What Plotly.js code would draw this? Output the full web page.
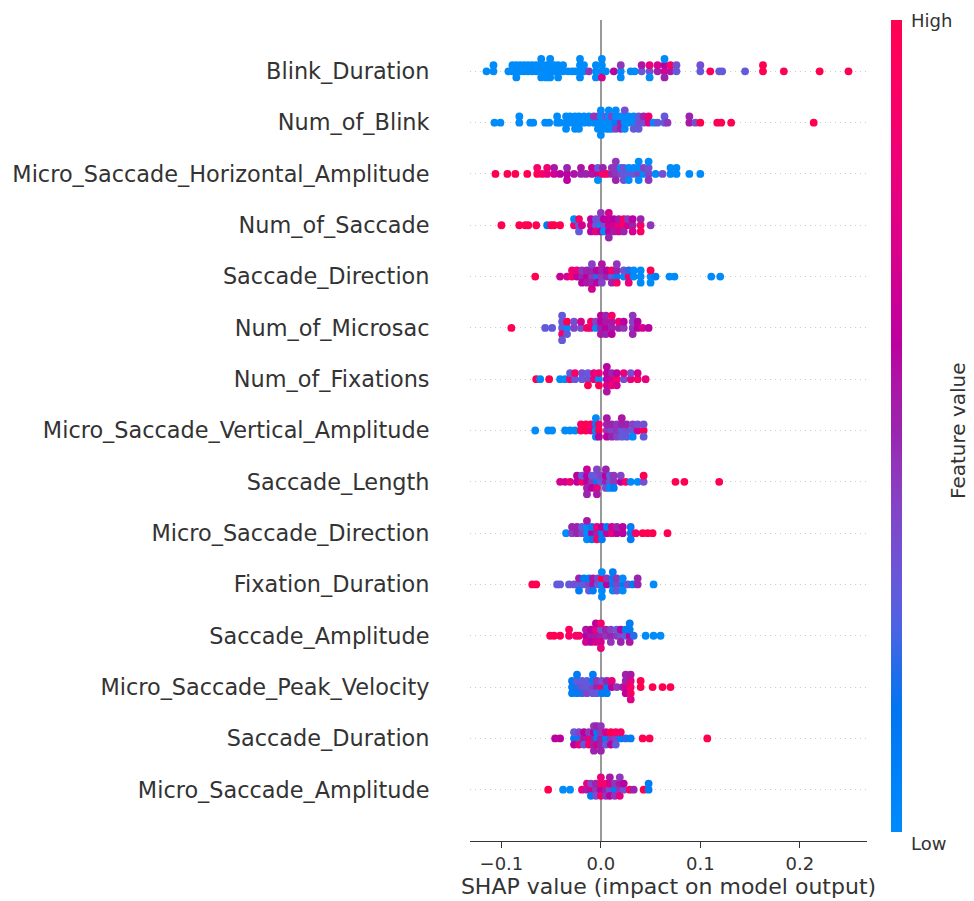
<!DOCTYPE html>
<html>
<head>
<meta charset="utf-8">
<script src="https://cdn.plot.ly/plotly-3.0.1.min.js"></script>
<style>html,body{margin:0;padding:0;background:#fff;}#chart{width:974px;height:901px;}</style>
</head>
<body>
<div id="chart"></div>
<script>
// Feature names, top to bottom
const featureNames = [
  "Blink_Duration","Num_of_Blink","Micro_Saccade_Horizontal_Amplitude","Num_of_Saccade",
  "Saccade_Direction","Num_of_Microsac","Num_of_Fixations","Micro_Saccade_Vertical_Amplitude",
  "Saccade_Length","Micro_Saccade_Direction","Fixation_Duration","Saccade_Amplitude",
  "Micro_Saccade_Peak_Velocity","Saccade_Duration","Micro_Saccade_Amplitude"
];
const xTickVals = [-0.1, 0, 0.1, 0.2];
const xTickText = ["\u22120.1", "0.0", "0.1", "0.2"];

// SHAP values and (normalised) feature values per feature
const shapBlinkDuration = [-0.115,-0.108,-0.108,-0.093,-0.089,-0.089,-0.085,-0.085,-0.085,-0.081,-0.081,-0.077,-0.077,-0.073,-0.073,-0.069,-0.069,-0.065,-0.065,-0.060,-0.060,-0.060,-0.060,-0.055,-0.055,-0.055,-0.051,-0.051,-0.051,-0.051,-0.047,-0.047,-0.043,-0.043,-0.043,-0.038,-0.038,-0.033,-0.029,-0.026,-0.021,-0.021,-0.021,-0.021,-0.017,-0.017,-0.012,-0.005,-0.005,-0.005,0.001,0.001,0.001,0.001,0.005,0.013,0.020,0.020,0.020,0.030,0.034,0.041,0.041,0.049,0.049,0.049,0.057,0.057,0.064,0.064,0.064,0.064,0.070,0.070,0.076,0.076,0.100,0.100,0.110,0.119,0.122,0.145,0.163,0.163,0.184,0.220,0.249];
const featBlinkDuration = [0,0,0,0,0,0,0,0,0,0,0,0,0,0,0,0,0,0,0,0,0,0,0,0,0,0,0,0,0,0,0,0,0,0,0,0,0,0,0,0,0,0,0,0,0,0,0.45,0,0,0,0,0,0.7,0,0,0.6,0,0.45,0,0,0,0.3,0.55,0.35,0.8,0,0.5,0.7,0.7,0.6,0.5,0,0.55,0.9,0.3,0.35,0.3,0.35,0.95,0.3,0.3,0.3,1,1,1,1,1];

const shapNumBlink = [-0.107,-0.101,-0.082,-0.082,-0.071,-0.068,-0.056,-0.052,-0.044,-0.044,-0.041,-0.035,-0.035,-0.035,-0.031,-0.031,-0.026,-0.026,-0.026,-0.022,-0.022,-0.022,-0.017,-0.017,-0.012,-0.012,-0.007,-0.007,-0.003,-0.003,-0.003,0.000,0.000,0.000,0.000,0.000,0.005,0.005,0.005,0.008,0.008,0.008,0.008,0.011,0.011,0.011,0.015,0.015,0.015,0.015,0.020,0.020,0.020,0.024,0.024,0.024,0.024,0.028,0.028,0.033,0.033,0.033,0.038,0.038,0.038,0.043,0.043,0.048,0.048,0.053,0.057,0.064,0.064,0.067,0.089,0.089,0.095,0.100,0.117,0.121,0.131,0.214];
const featNumBlink = [0,0,0,0,0,0,0,0,0,0,0,0,0,0,0,0,0,0,0,0,0,0,0,0,0,0,0,0.45,0,0.45,0,0,0,0,0,0,0,0.3,0,0,0,0,0,0,0.4,0,0.1,0,0.4,0,0.5,0,0.5,0,0,0,0.35,0,0,0,0,0.3,0.35,0.3,0.3,0.35,0.5,0.75,0.85,0,0.3,0.3,0.3,0.45,0.55,0.5,0.35,1,0.95,1,1,1];

const shapMSHorizAmp = [-0.106,-0.094,-0.086,-0.074,-0.064,-0.064,-0.059,-0.054,-0.054,-0.047,-0.047,-0.041,-0.034,-0.034,-0.034,-0.027,-0.020,-0.020,-0.015,-0.009,-0.009,-0.003,-0.003,-0.003,0.002,0.002,0.006,0.011,0.011,0.015,0.015,0.015,0.015,0.020,0.020,0.023,0.023,0.023,0.028,0.028,0.028,0.033,0.033,0.038,0.038,0.038,0.038,0.043,0.043,0.048,0.048,0.048,0.048,0.055,0.062,0.070,0.070,0.076,0.076,0.089,0.100];
const featMSHorizAmp = [1,1,1,1,1,0.9,0.9,0.8,0.85,0.7,0.55,0.6,0.6,0.5,0.6,0.55,0.5,0.55,0.5,0.55,0.65,0.7,0.3,0,0.9,0.5,0.9,0.5,0.45,0.45,0.45,0.5,0.45,0.4,0,0.3,0.35,0.35,0.3,0,0,0.3,0,0.4,0,0,0,0,0.4,0.4,0.35,0.45,0,0,0.35,0,0,0,0,0,0];

const shapNumSaccade = [-0.100,-0.082,-0.076,-0.073,-0.065,-0.054,-0.050,-0.047,-0.041,-0.027,-0.027,-0.022,-0.022,-0.022,-0.019,-0.010,-0.010,-0.010,-0.005,-0.005,-0.005,0.000,0.000,0.000,0.000,0.003,0.003,0.003,0.008,0.008,0.008,0.008,0.008,0.013,0.013,0.013,0.018,0.018,0.018,0.023,0.023,0.023,0.027,0.027,0.032,0.032,0.032,0.040,0.040,0.040,0.050];
const featNumSaccade = [1,1,1,1,1,0.1,1,1,1,0.9,0,0.3,0.9,0.3,0.7,0.7,0.6,0.6,0.3,0.35,0.8,0,0.35,0.6,0.45,0.35,0.6,0,0.65,0.65,0.6,0.7,0.5,0.7,0.6,0.55,0.8,0.55,0.7,0.9,0.9,0.5,0.7,0.45,0.5,0.6,0.7,0.9,0.5,0.9,0.45];

const shapSaccadeDir = [-0.066,-0.041,-0.034,-0.029,-0.029,-0.024,-0.024,-0.019,-0.019,-0.019,-0.014,-0.014,-0.014,-0.009,-0.009,-0.009,-0.009,-0.009,-0.004,-0.004,-0.004,0.001,0.001,0.001,0.001,0.006,0.006,0.011,0.011,0.011,0.016,0.016,0.016,0.016,0.023,0.023,0.028,0.028,0.028,0.033,0.033,0.040,0.040,0.040,0.050,0.050,0.050,0.055,0.069,0.074,0.111,0.120];
const featSaccadeDir = [1,0.65,0.7,0.9,0.85,0.6,0.8,0.5,0.45,0.6,0.6,0.5,0.55,0.45,0.5,0.5,0.4,0.7,0.2,0.6,0.6,0.45,0.5,0.4,0.55,0.5,0.6,0.3,0.9,0.5,0.1,0.5,0.9,0.45,0,0.35,0.9,0.2,0.8,0,0,0,0,0,0,1,0,0.1,0,0,0,0];

const shapNumMicrosac = [-0.090,-0.056,-0.049,-0.039,-0.039,-0.039,-0.039,-0.039,-0.034,-0.034,-0.034,-0.027,-0.027,-0.020,-0.020,-0.014,-0.010,-0.010,-0.005,-0.005,0.000,0.000,0.000,0.000,0.005,0.005,0.005,0.005,0.011,0.011,0.011,0.011,0.018,0.018,0.023,0.023,0.032,0.032,0.032,0.032,0.037,0.037,0.042,0.048];
const featNumMicrosac = [1,0.3,0.3,0.3,0.3,0.9,0.3,0.3,0,1,0.3,0.4,0.35,0.35,0.7,0.9,0.8,0.9,0,0.4,0.5,0.6,0.55,0.6,0.6,0.55,0.5,0.5,0.5,0.55,0.6,0.9,0.5,0.85,0.45,0.6,0.45,0.4,0.5,0.45,0.6,0.6,0.7,0.6];

const shapNumFixations = [-0.065,-0.061,-0.052,-0.041,-0.036,-0.031,-0.031,-0.026,-0.026,-0.019,-0.019,-0.013,-0.013,-0.013,-0.007,-0.007,-0.002,-0.002,-0.002,0.006,0.006,0.006,0.006,0.006,0.011,0.011,0.011,0.016,0.016,0.016,0.023,0.023,0.030,0.030,0.037,0.037,0.045];
const featNumFixations = [1,0,1,0,0,0.9,0.3,0.3,0.9,0.3,0.35,0.35,0.3,1,0.8,0.8,0,0.85,1,0.6,0.6,0.7,0.6,0.55,0.7,0.5,0.8,0.9,0.6,0.7,0.35,0.8,0.8,0.35,0.9,0.7,0.8];

const shapMSVertAmp = [-0.066,-0.053,-0.049,-0.036,-0.031,-0.026,-0.020,-0.020,-0.015,-0.015,-0.010,-0.010,-0.005,-0.005,-0.005,-0.005,-0.002,-0.002,-0.002,0.006,0.006,0.006,0.006,0.011,0.011,0.011,0.016,0.016,0.016,0.021,0.021,0.021,0.021,0.026,0.026,0.026,0.032,0.032,0.032,0.037,0.037,0.043,0.043,0.043];
const featMSVertAmp = [0,0,0,0,0,0,1,0.9,1,1,0.8,0.9,0,0.1,0,0,1,0.9,0.6,0.45,0.5,0.6,0.55,0.4,0.5,0.5,0.45,0.45,0.4,0.3,0.5,0.3,0.55,0.35,0.5,0.3,0.3,0.4,0,0.7,0.35,1,0.35,0.3];

const shapSaccadeLength = [-0.041,-0.036,-0.031,-0.024,-0.024,-0.019,-0.019,-0.014,-0.014,-0.014,-0.014,-0.014,-0.009,-0.009,-0.009,-0.004,-0.004,-0.004,-0.004,-0.004,0.000,0.000,0.005,0.005,0.005,0.005,0.009,0.009,0.009,0.013,0.013,0.013,0.020,0.020,0.025,0.030,0.037,0.043,0.043,0.075,0.084,0.119];
const featSaccadeLength = [0.7,0.7,0.8,0.6,0.6,0.9,0.3,0.6,0.6,0.5,0.65,0.5,0.45,0.3,0.6,0.1,0.3,0.8,0.4,0.55,0.3,0.4,0.5,0.6,0.35,0.5,0.3,0.3,0,0.45,0.45,0.1,0.6,0.4,0.9,0,0,0.35,1,1,1,1];

const shapMSDirection = [-0.035,-0.029,-0.029,-0.024,-0.024,-0.019,-0.019,-0.014,-0.014,-0.014,-0.014,-0.009,-0.009,-0.009,-0.004,-0.004,-0.004,0.001,0.001,0.001,0.006,0.006,0.011,0.011,0.016,0.016,0.022,0.022,0.030,0.030,0.030,0.035,0.042,0.047,0.052,0.067];
const featMSDirection = [0,0.4,0.5,0.5,0.5,0.4,0.3,0,0,0,0.55,0.6,0.1,0.1,0.5,0.8,0.9,0.1,0.6,0.1,0.65,0.1,0.8,0.7,0.6,0.5,0.6,0.6,0.1,0.1,0.1,0.9,1,1,1,1];

const shapFixationDur = [-0.069,-0.065,-0.044,-0.041,-0.032,-0.027,-0.022,-0.022,-0.022,-0.017,-0.017,-0.012,-0.012,-0.012,-0.008,-0.008,-0.008,-0.003,-0.003,0.001,0.001,0.001,0.001,0.001,0.006,0.006,0.012,0.012,0.012,0.012,0.016,0.016,0.016,0.022,0.022,0.022,0.027,0.032,0.037,0.037,0.053];
const featFixationDur = [1,1,0.3,0.3,0.3,0.35,0.3,0.5,0.1,0.3,0.1,0.4,0.1,0.3,0.55,0.55,0.1,0.3,0.4,0,1,0,0,0,0.6,0.45,0.1,0.1,0,0.1,0.4,0.45,0.3,0.1,0,0,0.35,0.1,0.5,0.5,0];

const shapSaccadeAmp = [-0.051,-0.047,-0.041,-0.032,-0.032,-0.025,-0.022,-0.015,-0.015,-0.015,-0.010,-0.010,-0.010,-0.005,-0.005,-0.005,-0.005,0.000,0.000,0.000,0.000,0.000,0.005,0.005,0.010,0.010,0.010,0.016,0.016,0.020,0.020,0.020,0.025,0.025,0.029,0.029,0.029,0.029,0.033,0.045,0.053,0.060];
const featSaccadeAmp = [1,1,1,0.9,0.95,0.9,0.9,0.6,0.55,0.7,0.55,0.6,0.6,0.55,0.8,0.7,0.6,0.5,0.35,0.7,0.9,0.8,0.45,0.5,0.5,0.4,0.45,0.45,0.3,0.35,0.6,0.5,0.3,0.1,0.6,0.1,0.55,0.1,0.2,0,0,0];

const shapMSPeakVel = [-0.029,-0.029,-0.029,-0.024,-0.024,-0.024,-0.024,-0.019,-0.019,-0.019,-0.014,-0.014,-0.014,-0.008,-0.008,-0.008,-0.008,-0.004,-0.004,-0.004,0.001,0.001,0.001,0.006,0.006,0.006,0.011,0.011,0.016,0.022,0.025,0.025,0.025,0.025,0.030,0.030,0.030,0.030,0.030,0.040,0.040,0.052,0.062,0.070];
const featMSPeakVel = [0.1,0.1,0.1,0.2,0.3,0.1,0.1,0.35,0.3,0.2,0.3,0.3,0.4,0.4,0.1,0.3,0.1,0.5,0.45,0.3,0.9,0.35,0.1,0.1,0.5,0.1,0.6,0.8,0.45,0.5,0.7,0.5,0.6,0.5,0.9,0.8,0.9,0.55,0.75,1,1,1,1,1];

const shapSaccadeDur = [-0.046,-0.041,-0.027,-0.027,-0.027,-0.022,-0.022,-0.022,-0.017,-0.017,-0.017,-0.012,-0.012,-0.012,-0.007,-0.007,-0.007,-0.007,-0.007,-0.004,-0.004,-0.004,-0.004,0.000,0.000,0.000,0.000,0.000,0.005,0.005,0.005,0.010,0.010,0.010,0.015,0.015,0.015,0.020,0.020,0.025,0.030,0.042,0.049,0.107];
const featSaccadeDur = [0.6,0.6,0.1,0.3,0.6,0.2,0.4,0.8,0.55,0.6,0.3,0.8,0.45,0.9,0.5,0.6,0.5,0.45,0.5,0.1,0.1,0.7,0.5,0.5,0.45,0.5,0.45,0.5,0.1,0.7,0.3,0.45,1,0.6,0.4,0.9,0.3,0.1,0.9,0.2,0.1,1,1,1];

const shapMSAmplitude = [-0.053,-0.038,-0.031,-0.019,-0.014,-0.014,-0.010,-0.010,-0.010,-0.005,-0.005,-0.005,0.000,0.000,0.000,0.000,0.005,0.005,0.005,0.009,0.009,0.009,0.009,0.014,0.014,0.014,0.019,0.019,0.019,0.019,0.023,0.023,0.029,0.033,0.043,0.048,0.048];
const featMSAmplitude = [1,0,0,0.8,0.5,0.8,0.7,0.4,0.1,0.45,0.5,0.35,0.6,0.9,0.9,0.8,0.5,0.9,0.45,0.35,0.7,0.6,0.55,0.1,0.45,0.45,0.45,0.55,0.8,0.45,0.35,0.6,0.9,0.5,1,0.1,0.1];

const rows = [
  [shapBlinkDuration, featBlinkDuration],
  [shapNumBlink, featNumBlink],
  [shapMSHorizAmp, featMSHorizAmp],
  [shapNumSaccade, featNumSaccade],
  [shapSaccadeDir, featSaccadeDir],
  [shapNumMicrosac, featNumMicrosac],
  [shapNumFixations, featNumFixations],
  [shapMSVertAmp, featMSVertAmp],
  [shapSaccadeLength, featSaccadeLength],
  [shapMSDirection, featMSDirection],
  [shapFixationDur, featFixationDur],
  [shapSaccadeAmp, featSaccadeAmp],
  [shapMSPeakVel, featMSPeakVel],
  [shapSaccadeDur, featSaccadeDur],
  [shapMSAmplitude, featMSAmplitude]
];

// SHAP red_blue colormap (LCH interpolation)
function lch2rgb(L, C, H) {
  const a = C * Math.cos(H), b = C * Math.sin(H);
  const fy = (L + 16) / 116, fx = fy + a / 500, fz = fy - b / 200;
  const finv = t => t > 0.2068966 ? t * t * t : (t - 16 / 116) / 7.787;
  const X = 0.95047 * finv(fx), Y = 1.0 * finv(fy), Z = 1.08883 * finv(fz);
  let r = 3.2404542 * X - 1.5371385 * Y - 0.4985314 * Z;
  let g = -0.9692660 * X + 1.8760108 * Y + 0.0415560 * Z;
  let bl = 0.0556434 * X - 0.2040259 * Y + 1.0572252 * Z;
  const gam = c => { c = c > 0.0031308 ? 1.055 * Math.pow(c, 1 / 2.4) - 0.055 : 12.92 * c; return Math.round(255 * Math.min(1, Math.max(0, c))); };
  return `rgb(${gam(r)},${gam(g)},${gam(bl)})`;
}
const colorscale = [];
for (let i = 0; i <= 20; i++) {
  const t = i / 20;
  const L = t <= 0.5 ? 54 - 14 * (t / 0.5) : 40 + 14 * ((t - 0.5) / 0.5);
  const C = 70 + 20 * t;
  const H = 4.6588 + (0.35470565 + 2 * Math.PI - 4.6588) * t;
  colorscale.push([t, lch2rgb(L, C, H)]);
}

// beeswarm offsets (shap-style layering within identical value groups)
function offsets(xs) {
  const cnt = new Map();
  const ys = xs.map(v => {
    const k = cnt.get(v) || 0; cnt.set(v, k + 1);
    return Math.ceil(k / 2) * ((k % 2) * 2 - 1);
  });
  const m = Math.max(...ys.map(y => y + 1));
  return ys.map(y => y * 0.9 * 0.4 / m);
}

const nF = featureNames.length;
const X = [], Y = [], Cc = [];
for (let i = nF - 1; i >= 0; i--) {
  const [xs, fs] = rows[i];
  const pos = nF - 1 - i;
  const off = offsets(xs);
  xs.forEach((v, j) => { X.push(v); Y.push(pos + off[j]); Cc.push(fs[j]); });
}

const font = "DejaVu Sans, sans-serif";
const trace = {
  type: "scatter", mode: "markers", x: X, y: Y, hoverinfo: "skip",
  marker: {
    size: 7.8, color: Cc, cmin: 0, cmax: 1, colorscale: colorscale, line: { width: 0 },
    showscale: true,
    colorbar: {
      x: (891 - 470) / 397, xanchor: "left", xpad: 0, ypad: 0,
      y: (841 - 832) / 821, yanchor: "bottom", lenmode: "pixels", len: 812,
      thicknessmode: "pixels", thickness: 11, outlinewidth: 0,
      showticklabels: false, ticks: ""
    }
  }
};

const layout = {
  width: 974, height: 901,
  margin: { l: 470, r: 107, t: 20, b: 60 },
  paper_bgcolor: "#fff", plot_bgcolor: "#fff",
  showlegend: false,
  font: { family: font, color: "#333333" },
  xaxis: {
    range: [-0.1316, 0.2676], tickvals: xTickVals, ticktext: xTickText,
    ticks: "outside", ticklen: 6, tickwidth: 1, tickcolor: "#333333",
    tickfont: { size: 18, family: font, color: "#333333" },
    showline: true, linecolor: "#333333", linewidth: 1,
    showgrid: false, zeroline: true, zerolinecolor: "#999999", zerolinewidth: 2.2,
    title: { text: "SHAP value (impact on model output)", font: { size: 22, family: font, color: "#333333" }, standoff: 6 }
  },
  yaxis: {
    range: [-1, 15], tickvals: featureNames.map((_, i) => i),
    ticktext: featureNames.slice().reverse(),
    ticks: "outside", ticklen: 35, tickcolor: "rgba(0,0,0,0)",
    tickfont: { size: 22.4, family: font, color: "#333333" },
    showgrid: true, gridcolor: "#cccccc", gridwidth: 1, griddash: "1px,4px",
    zeroline: false, showline: false
  },
  annotations: [
    { xref: "paper", yref: "paper", x: (909 - 470) / 397, y: 1.0, xanchor: "left", yanchor: "middle", text: "High", showarrow: false, font: { size: 18, family: font, color: "#333333" } },
    { xref: "paper", yref: "paper", x: (909 - 470) / 397, y: (841 - 843) / 821, xanchor: "left", yanchor: "middle", text: "Low", showarrow: false, font: { size: 18, family: font, color: "#333333" } },
    { xref: "paper", yref: "paper", x: (958 - 470) / 397, y: (841 - 431) / 821, xanchor: "center", yanchor: "middle", text: "Feature value", textangle: -90, showarrow: false, font: { size: 20, family: font, color: "#333333" } }
  ]
};

Plotly.newPlot("chart", [trace], layout, { displayModeBar: false, staticPlot: true });
</script>
</body>
</html>
